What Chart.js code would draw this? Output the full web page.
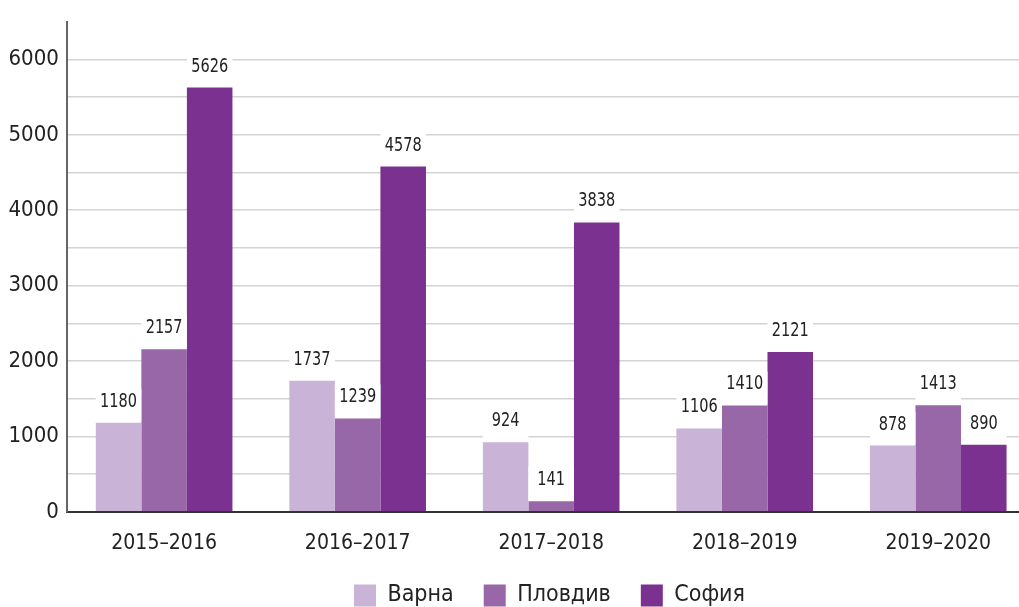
<!DOCTYPE html>
<html>
<head>
<meta charset="utf-8">
<script src="https://cdn.jsdelivr.net/npm/chart.js@4/dist/chart.umd.min.js"></script>
<style>
  html, body { margin: 0; padding: 0; background: #fff; overflow: hidden; }
  #wrap { width: 1098px; height: 617px; position: relative; }
</style>
</head>
<body>
<div id="wrap"><canvas id="myChart"></canvas></div>
<script>
const CHART = document.getElementById("myChart");
const FONT = "'Liberation Sans Narrow', 'DejaVu Sans Condensed', 'Roboto', sans-serif";

const seasons = ['2015–2016', '2016–2017', '2017–2018', '2018–2019', '2019–2020'];
const varna = [1180, 1737, 924, 1106, 878];
const plovdiv = [2157, 1239, 141, 1410, 1413];
const sofia = [5626, 4578, 3838, 2121, 890];
const cityNames = ['Варна', 'Пловдив', 'София'];
const cityColors = ['#c9b3d7', '#9767a8', '#7a318f'];

// numbers sitting on a white plate right above each bar
const barValues = {
  id: 'barValues',
  afterDatasetsDraw(chart) {
    const ctx = chart.ctx;
    chart.data.datasets.forEach((ds, i) => {
      chart.getDatasetMeta(i).data.forEach((bar, j) => {
        const w = bar.width;
        ctx.save();
        ctx.fillStyle = '#fff';
        ctx.fillRect(bar.x - w / 2, bar.y - 34, w, 33);
        // squeeze the digits a bit, they are narrow and tall
        ctx.translate(bar.x, bar.y - 21);
        ctx.scale(0.85, 1);
        ctx.font = "19px " + FONT;
        ctx.textAlign = 'center';
        ctx.textBaseline = 'middle';
        ctx.fillStyle = '#222';
        ctx.fillText(ds.data[j], 0, 0);
        ctx.restore();
      });
    });
  }
};

// legend sits a little right of the centre
const legendShift = {
  id: 'legendShift',
  afterLayout(chart) {
    chart.legend.left += 32;
    chart.legend.right += 32;
  }
};

let barchart = new Chart(CHART, {
  type: 'bar',
  data: {
    labels: seasons,
    datasets: [varna, plovdiv, sofia].map((vals, i) => ({
      label: cityNames[i],
      data: vals,
      backgroundColor: cityColors[i],
      borderWidth: 0,
      barPercentage: 1,
      categoryPercentage: 0.706
    }))
  },
  options: {
    responsive: true,
    maintainAspectRatio: false,
    animation: false,
    layout: { padding: { top: 12, right: 63, left: 0, bottom: 0 } },
    plugins: {
      tooltip: { enabled: false },
      legend: {
        position: 'bottom',
        labels: {
          boxWidth: 22,
          boxHeight: 22,
          padding: 30,
          color: '#222',
          font: { family: FONT, size: 23 }
        }
      }
    },
    scales: {
      x: {
        grid: { display: false, drawTicks: false },
        border: { color: '#333', width: 2 },
        ticks: { color: '#222', padding: 19, font: { family: FONT, size: 21 } },
        afterFit: s => { s.height -= 21; }
      },
      y: {
        min: 0,
        max: 6500,
        border: { color: '#666', width: 2 },
        grid: {
          drawTicks: false,
          lineWidth: 1.5,
          color: c => (c.tick && c.tick.value > 6000) ? 'rgba(0,0,0,0)' : '#d4d4d4'
        },
        ticks: {
          stepSize: 500,
          padding: 8.5,
          color: '#222',
          font: { family: FONT, size: 22 },
          callback: v => (v % 1000 === 0 && v <= 6000) ? v : ''
        }
      }
    }
  },
  plugins: [barValues, legendShift]
});
</script>
</body>
</html>
